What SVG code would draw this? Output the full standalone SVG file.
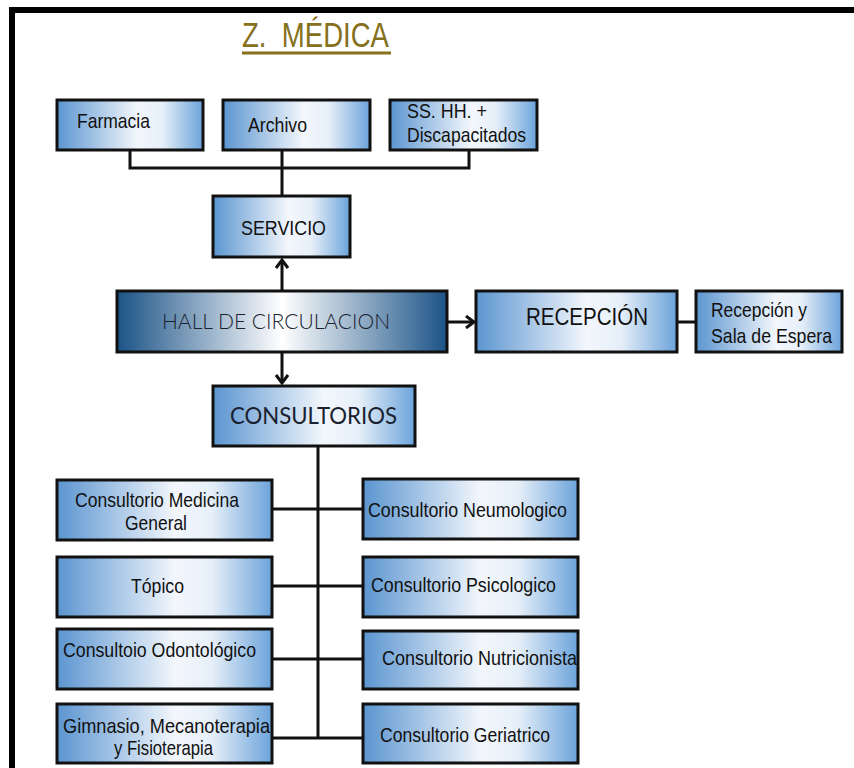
<svg xmlns="http://www.w3.org/2000/svg" width="854" height="768" viewBox="0 0 854 768">
  <defs>
    <linearGradient id="boxFill" x1="0" y1="0" x2="1" y2="0">
      <stop offset="0" stop-color="#5B95D0"/>
      <stop offset="0.55" stop-color="#F3F7FC"/>
      <stop offset="0.72" stop-color="#E6EFF9"/>
      <stop offset="1" stop-color="#6BA3DA"/>
    </linearGradient>
    <linearGradient id="hallFill" x1="0" y1="0" x2="1" y2="0">
      <stop offset="0" stop-color="#1B5387"/>
      <stop offset="0.5" stop-color="#FFFFFF"/>
      <stop offset="1" stop-color="#1B5387"/>
    </linearGradient>
    <marker id="vArrow" markerWidth="14" markerHeight="14" refX="11" refY="7" orient="auto" markerUnits="userSpaceOnUse">
      <path d="M3,1 L11,7 L3,13" fill="none" stroke="#111" stroke-width="3"/>
    </marker>
  </defs>
  <style>
    .box { fill: url(#boxFill); stroke: #111; stroke-width: 3; }
    .hall { fill: url(#hallFill); stroke: #111; stroke-width: 3; }
    .wire { fill: none; stroke: #111; stroke-width: 3; }
    .lbl { font-family: "Liberation Sans", Arial, sans-serif; font-size: 21px; fill: #111; }
    .big { font-family: "Liberation Sans", Arial, sans-serif; font-size: 24px; fill: #111; }
    .geo { font-family: "Lato", "Liberation Sans", sans-serif; fill: #1a2230; }
  </style>

  <rect width="854" height="768" fill="#FFFFFF"/>
  <!-- outer frame -->
  <path d="M12,768 V10 H854" fill="none" stroke="#000" stroke-width="6"/>

  <!-- title -->
  <g id="title">
    <text x="242" y="47" font-family="'Liberation Sans', Arial, sans-serif" font-size="35" fill="#85701C" style="white-space:pre" textLength="147" lengthAdjust="spacingAndGlyphs">Z.  MÉDICA</text>
    <rect x="242" y="51.5" width="149" height="3" fill="#85701C"/>
  </g>

  <!-- connectors -->
  <g id="connectors">
    <path class="wire" d="M130,150 V168 H469 V150 M282,150 V196"/>
    <path class="wire" d="M282,291 V260" marker-end="url(#vArrow)"/>
    <path class="wire" d="M447,322 H474" marker-end="url(#vArrow)"/>
    <path class="wire" d="M282,352 V383" marker-end="url(#vArrow)"/>
    <path class="wire" d="M677,322 H696"/>
    <path class="wire" d="M318,446 V738"/>
    <path class="wire" d="M272,509 H363 M272,586 H363 M272,659 H363 M272,738 H363"/>
  </g>

  <g id="farmacia">
    <rect class="box" x="57" y="100" width="146" height="50"/>
    <text class="lbl" x="77" y="128" textLength="73" lengthAdjust="spacingAndGlyphs">Farmacia</text>
  </g>
  <g id="archivo">
    <rect class="box" x="223" y="100" width="147" height="50"/>
    <text class="lbl" x="248" y="132" textLength="59" lengthAdjust="spacingAndGlyphs">Archivo</text>
  </g>
  <g id="sshh">
    <rect class="box" x="390" y="100" width="147" height="50"/>
    <text class="lbl" x="407" y="118" textLength="80" lengthAdjust="spacingAndGlyphs">SS. HH. +</text>
    <text class="lbl" x="407" y="142" textLength="119" lengthAdjust="spacingAndGlyphs">Discapacitados</text>
  </g>
  <g id="servicio">
    <rect class="box" x="213" y="196" width="137" height="61"/>
    <text class="lbl" x="241" y="235" textLength="85" lengthAdjust="spacingAndGlyphs">SERVICIO</text>
  </g>
  <g id="hall">
    <rect class="hall" x="117" y="291" width="330" height="61"/>
    <text class="geo" x="162" y="329" font-size="22" font-weight="300" textLength="228" lengthAdjust="spacingAndGlyphs">HALL DE CIRCULACION</text>
  </g>
  <g id="recepcion">
    <rect class="box" x="476" y="291" width="201" height="61"/>
    <text class="big" x="526" y="325" textLength="122" lengthAdjust="spacingAndGlyphs">RECEPCIÓN</text>
  </g>
  <g id="sala-espera">
    <rect class="box" x="696" y="291" width="146" height="61"/>
    <text class="lbl" x="711" y="317" font-size="19" textLength="96" lengthAdjust="spacingAndGlyphs">Recepción y</text>
    <text class="lbl" x="711" y="343" font-size="19" textLength="121" lengthAdjust="spacingAndGlyphs">Sala de Espera</text>
  </g>
  <g id="consultorios">
    <rect class="box" x="213" y="386" width="202" height="60"/>
    <text class="geo" x="230" y="424" font-size="23" font-weight="400" textLength="167" lengthAdjust="spacingAndGlyphs">CONSULTORIOS</text>
  </g>

  <g id="medicina-general">
    <rect class="box" x="57" y="480" width="215" height="60"/>
    <text class="lbl" x="75" y="507" textLength="164" lengthAdjust="spacingAndGlyphs">Consultorio Medicina</text>
    <text class="lbl" x="125" y="530" textLength="62" lengthAdjust="spacingAndGlyphs">General</text>
  </g>
  <g id="topico">
    <rect class="box" x="57" y="557" width="215" height="60"/>
    <text class="lbl" x="131" y="593" textLength="53" lengthAdjust="spacingAndGlyphs">Tópico</text>
  </g>
  <g id="odontologico">
    <rect class="box" x="57" y="629" width="215" height="60"/>
    <text class="lbl" x="63" y="657" textLength="193" lengthAdjust="spacingAndGlyphs">Consultoio Odontológico</text>
  </g>
  <g id="gimnasio">
    <rect class="box" x="57" y="704" width="215" height="59"/>
    <text class="lbl" x="63" y="733" textLength="207" lengthAdjust="spacingAndGlyphs">Gimnasio, Mecanoterapia</text>
    <text class="lbl" x="114" y="755" textLength="99" lengthAdjust="spacingAndGlyphs">y Fisioterapia</text>
  </g>

  <g id="neumologico">
    <rect class="box" x="363" y="479" width="215" height="60"/>
    <text class="lbl" x="368" y="517" textLength="199" lengthAdjust="spacingAndGlyphs">Consultorio Neumologico</text>
  </g>
  <g id="psicologico">
    <rect class="box" x="363" y="557" width="215" height="60"/>
    <text class="lbl" x="371" y="592" textLength="185" lengthAdjust="spacingAndGlyphs">Consultorio Psicologico</text>
  </g>
  <g id="nutricionista">
    <rect class="box" x="363" y="631" width="215" height="58"/>
    <text class="lbl" x="382" y="665" textLength="195" lengthAdjust="spacingAndGlyphs">Consultorio Nutricionista</text>
  </g>
  <g id="geriatrico">
    <rect class="box" x="363" y="704" width="215" height="59"/>
    <text class="lbl" x="380" y="742" textLength="170" lengthAdjust="spacingAndGlyphs">Consultorio Geriatrico</text>
  </g>
</svg>
